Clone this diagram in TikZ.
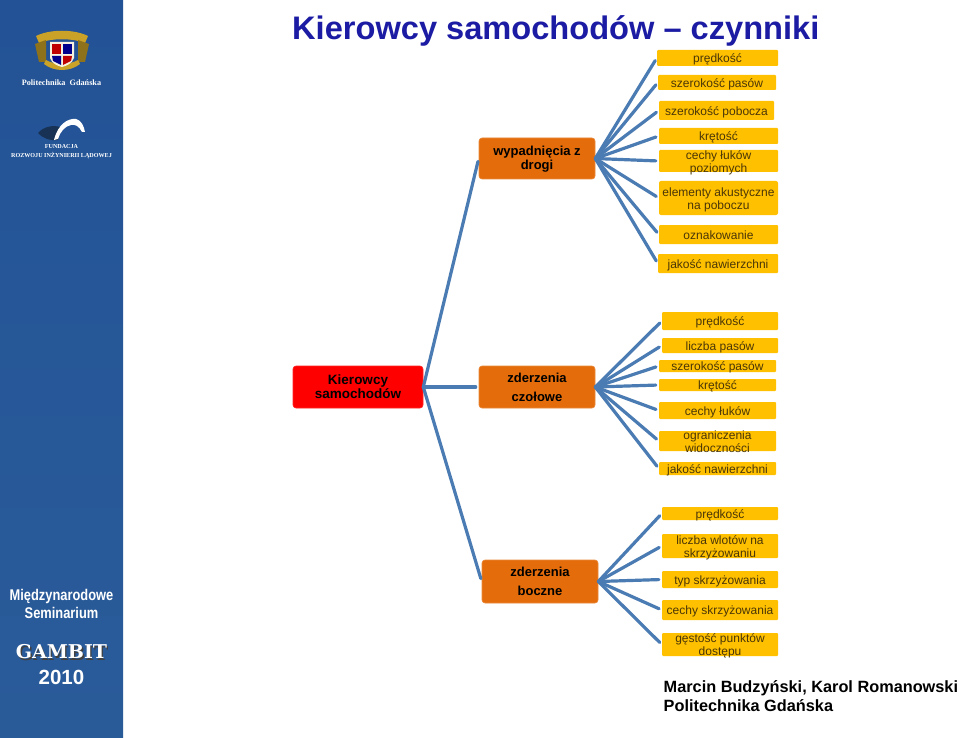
\documentclass[tikz,border=0pt]{standalone}
\usepackage{fontspec}
\setmainfont{Liberation Sans}
\newfontfamily\serifb{Liberation Serif}
\newfontfamily\slab{DejaVu Serif}
\definecolor{side}{HTML}{2A5B99}
\definecolor{sidetop}{HTML}{235396}
\definecolor{leafc}{HTML}{FFC000}
\definecolor{hubc}{HTML}{E46C0A}
\definecolor{linkc}{HTML}{4A7BB2}
\definecolor{titlec}{HTML}{1B1BA4}
\definecolor{leaft}{HTML}{4A3608}
\definecolor{gold}{HTML}{C9A227}
\newcommand{\lf}[1]{\raisebox{-5pt}[0pt][0pt]{\begin{tabular}[c]{@{}c@{}}#1\end{tabular}}}
\tikzset{
  x=1pt,y=-1pt,
  leafbox/.style={fill=leafc,rounded corners=1pt,inner sep=0pt,align=center,text=leaft,font=\fontsize{12}{13}\selectfont},
  hubbox/.style={fill=hubc,draw=hubc!80!white,line width=.6pt,rounded corners=3pt,inner sep=0pt,align=center,font=\bfseries\fontsize{13}{14}\selectfont},
  rootbox/.style={hubbox,fill=red,draw=red!85!white},
  link/.style={draw=linkc,line width=3.2pt,line cap=round,shorten >=3pt},
  sidetext/.style={text=white,inner sep=0pt,align=center},
}
\newcommand{\boxat}[7]{% style name x1 y1 x2 y2 text
  \pgfmathsetmacro{\bw}{#5-#3}\pgfmathsetmacro{\bh}{#6-#4}
  \pgfmathsetmacro{\bx}{(#3+#5)/2}\pgfmathsetmacro{\by}{(#4+#6)/2}
  \node[#1,minimum width=\bw pt,minimum height=\bh pt] (#2) at (\bx,\by) {#7};}
\begin{document}
\begin{tikzpicture}
\useasboundingbox (0,0) rectangle (960,738);
\fill[white] (0,0) rectangle (960,738);
\shade[top color=sidetop,bottom color=side] (0,0) rectangle (123,738);

% crest
\fill[gold] (36,36) .. controls (50,29) and (74,29) .. (88,36) -- (85,43) .. controls (72,38) and (52,38) .. (39,43) -- cycle;
\fill[gold!70!black] (35,44) -- (46,40) -- (46,62) -- (39,62) -- cycle;
\fill[gold!70!black] (89,44) -- (78,40) -- (78,62) -- (85,62) -- cycle;
\fill[gold] (44,64) .. controls (54,72) and (70,72) .. (80,64) -- (78,60) .. controls (70,65) and (54,65) .. (46,60) -- cycle;
\fill[white!85!gold] (50,42) -- (74,42) -- (74,58) .. controls (72,64) and (66,66) .. (62,67) .. controls (58,66) and (52,64) .. (50,58) -- cycle;
\fill[red!75!black] (52,44) rectangle (61,54);
\fill[blue!55!black] (63,44) rectangle (72,54);
\fill[blue!55!black] (52,56) -- (61,56) -- (61,65) -- (53,61) -- cycle;
\fill[red!75!black] (63,56) -- (72,56) -- (71,61) -- (63,65) -- cycle;

\node[sidetext,font=\serifb\bfseries\fontsize{8.2}{9}\selectfont] (pg) at (61.5,83) {Politechnika\ \ Gdańska};

% bridge
\fill[black!45!side] (38,133) .. controls (44,126) and (54,125) .. (60,127) -- (58,140) .. controls (50,141) and (42,138) .. (38,133) -- cycle;
\fill[white] (54,140) .. controls (58,124) and (68,118) .. (76,119) .. controls (81,120) and (84,126) .. (85,132) -- (82,132) .. controls (79,126) and (75,124) .. (71,125) .. controls (65,126) and (60,132) .. (58,139) -- cycle;
\node[sidetext,font=\serifb\bfseries\fontsize{6.1}{9.5}\selectfont] (fund) at (61.5,151.5) {FUNDACJA\\ROZWOJU INŻYNIERII LĄDOWEJ};

% seminar
\node[sidetext,font=\bfseries\fontsize{15.5}{18}\selectfont,xscale=.83] (sem) at (61.5,603.5) {Międzynarodowe\\Seminarium};
\node[text=black!75,inner sep=0pt,font=\slab\bfseries\fontsize{19}{20}\selectfont] at (62.8,653.1) {GAMBIT};
\node[sidetext,font=\slab\bfseries\fontsize{19}{20}\selectfont] (gam) at (61.5,651.8) {GAMBIT};
\node[sidetext,font=\bfseries\fontsize{20.5}{21}\selectfont] (yr) at (61.5,677.5) {2010};

% title and footer
\node[anchor=base west,inner sep=0pt,text=titlec,font=\bfseries\fontsize{32.6}{36}\selectfont] (title) at (292,39.5) {Kierowcy samochodów – czynniki};
\node[anchor=base west,inner sep=0pt,font=\bfseries\fontsize{16.3}{18}\selectfont] (auth) at (663.5,692) {Marcin Budzyński, Karol Romanowski};
\node[anchor=base west,inner sep=0pt,font=\bfseries\fontsize{16.3}{18}\selectfont] (aff) at (663.5,711) {Politechnika Gdańska};

% hubs
\boxat{rootbox,font=\bfseries\fontsize{13.5}{14}\selectfont}{root}{293}{366}{423}{408}{Kierowcy\\samochodów}
\boxat{hubbox}{wyp}{479}{138}{595}{179}{\raisebox{-4pt}[0pt][0pt]{\begin{tabular}[c]{@{}c@{}}wypadnięcia z\\drogi\end{tabular}}}
\boxat{hubbox,font=\bfseries\fontsize{13}{19}\selectfont}{czo}{479}{366}{595}{408}{zderzenia\\czołowe}
\boxat{hubbox,font=\bfseries\fontsize{13}{19}\selectfont}{bocz}{482}{560}{598}{603}{zderzenia\\boczne}

% leaves 1
\boxat{leafbox}{a1}{657}{50}{778}{66}{\lf{prędkość}}
\boxat{leafbox}{a2}{658}{75}{776}{90}{\lf{szerokość pasów}}
\boxat{leafbox}{a3}{659}{101}{774}{120}{\lf{szerokość pobocza}}
\boxat{leafbox}{a4}{659}{128}{778}{144}{\lf{krętość}}
\boxat{leafbox}{a5}{659}{150}{778}{172}{\lf{cechy łuków\\poziomych}}
\boxat{leafbox,rounded corners=2pt}{a6}{659}{181}{778}{215}{\lf{elementy akustyczne\\na poboczu}}
\boxat{leafbox}{a7}{659}{225}{778}{244}{\lf{oznakowanie}}
\boxat{leafbox}{a8}{658}{254}{778}{273}{\lf{jakość nawierzchni}}
% leaves 2
\boxat{leafbox}{b1}{662}{312}{778}{330}{\lf{prędkość}}
\boxat{leafbox}{b2}{662}{338}{778}{353}{\lf{liczba pasów}}
\boxat{leafbox}{b3}{659}{360}{776}{372}{\lf{szerokość pasów}}
\boxat{leafbox}{b4}{659}{379}{776}{391}{\lf{krętość}}
\boxat{leafbox}{b5}{659}{402}{776}{419}{\lf{cechy łuków}}
\boxat{leafbox}{b6}{659}{431}{776}{451}{\lf{ograniczenia\\widoczności}}
\boxat{leafbox}{b7}{659}{462}{776}{475}{\lf{jakość nawierzchni}}
% leaves 3
\boxat{leafbox}{c1}{662}{507}{778}{520}{\lf{prędkość}}
\boxat{leafbox}{c2}{662}{534}{778}{558}{\lf{liczba wlotów na\\skrzyżowaniu}}
\boxat{leafbox}{c3}{662}{571}{778}{588}{\lf{typ skrzyżowania}}
\boxat{leafbox}{c4}{662}{600}{778}{620}{\lf{cechy skrzyżowania}}
\boxat{leafbox}{c5}{662}{633}{778}{656}{\lf{gęstość punktów\\dostępu}}

% connectors
\draw[link] (root.east) -- (wyp.west);
\draw[link] (root.east) -- (czo.west);
\draw[link] (root.east) -- (bocz.west);
\foreach \t in {a1,a2,a3,a4,a5,a6,a7,a8} \draw[link] (wyp.east) -- (\t.west);
\foreach \t in {b1,b2,b3,b4,b5,b6,b7} \draw[link] (czo.east) -- (\t.west);
\foreach \t in {c1,c2,c3,c4,c5} \draw[link] (bocz.east) -- (\t.west);
\end{tikzpicture}
\end{document}
